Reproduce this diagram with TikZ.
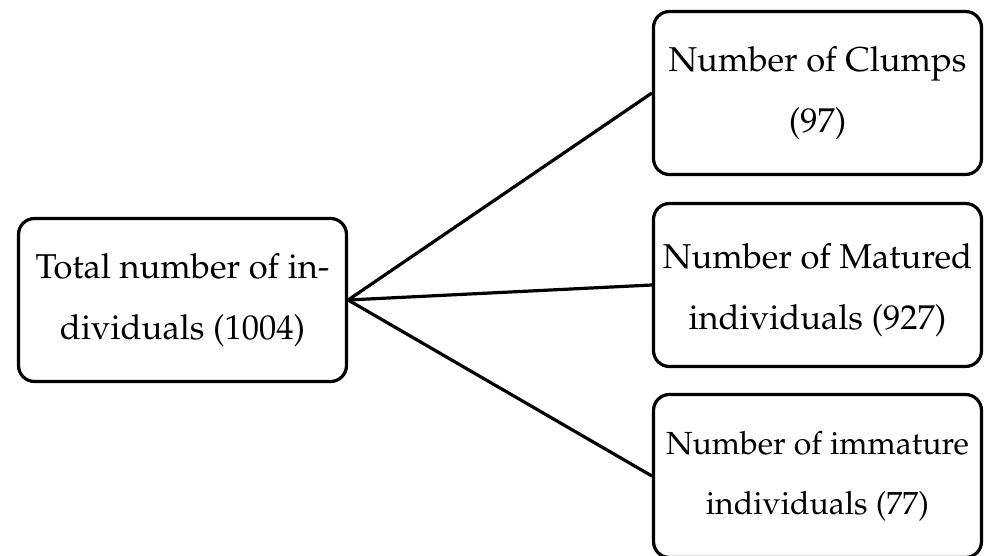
\documentclass[tikz,border=0pt]{standalone}
\usepackage[T1]{fontenc}
\usepackage{mathpazo}
\begin{document}
\begin{tikzpicture}[x=1pt,y=-1pt,
  box/.style={draw=black, line width=3.2pt, rounded corners=16pt, fill=white,
    minimum width=328pt, minimum height=163pt, align=center, inner sep=0pt,
    font=\fontsize{34.5}{61}\selectfont},
  link/.style={draw=black, line width=3.2pt}]
\useasboundingbox[fill=white] (0,0) rectangle (984,556);
\node[box] (total) at (182.5,300) {Total number of in-\\dividuals (1004)};
\node[box] (clumps) at (817.5,93) {Number of Clumps\\(97)};
\node[box] (mat) at (817.5,285) {\begin{minipage}{325pt}\centering\vspace*{11pt}Number of Matured\\individuals (927)\end{minipage}};
\node[box, font=\fontsize{32}{60}\selectfont] (imm) at (817.5,476) {Number of immature\\individuals (77)};
\draw[link] (total.east) -- (clumps.west);
\draw[link] (total.east) -- (mat.west);
\draw[link] (total.east) -- (imm.west);
\end{tikzpicture}
\end{document}
